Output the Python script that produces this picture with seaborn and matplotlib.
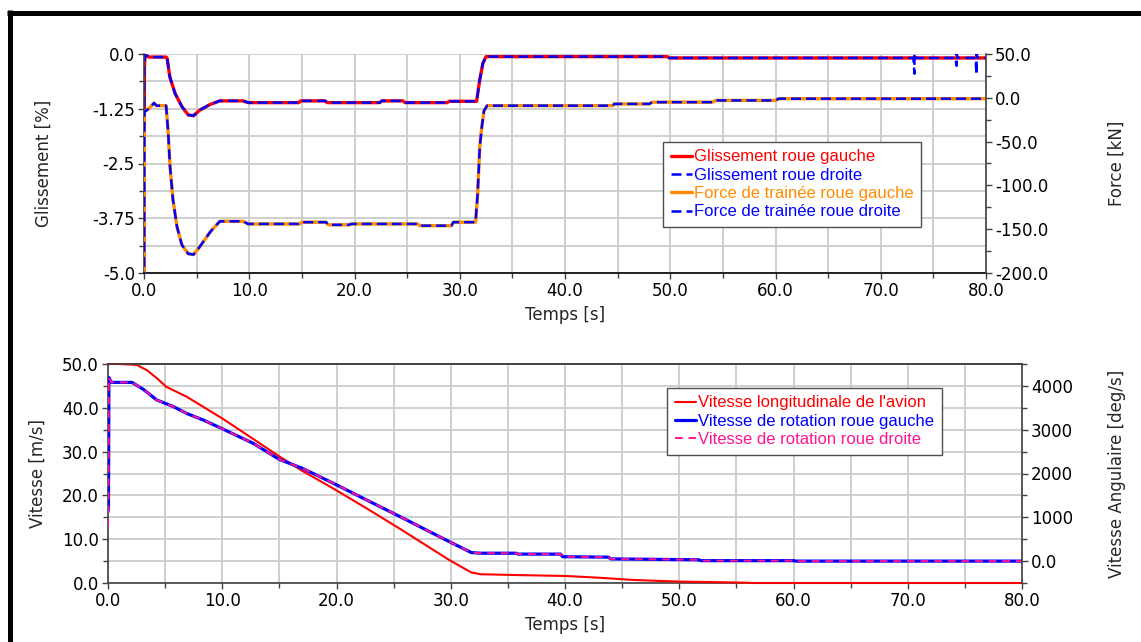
import numpy as np
import pandas as pd
import matplotlib.pyplot as plt
import seaborn as sns
from matplotlib.ticker import MultipleLocator
from matplotlib.lines import Line2D

# --- haut : glissement [%] et force de trainee [kN] ---
gliss_t = [0.0, 0.04, 0.1, 0.5, 2.1, 2.2, 2.45, 2.95, 3.6, 4.2, 4.7, 5.3, 6.3, 7.2, 9.4, 9.9,
           14.7, 14.9, 17.2, 17.4, 22.4, 22.6, 24.6, 24.8, 28.8, 29.0, 31.6, 31.9, 32.2, 32.5,
           49.7, 49.9, 80.0]
gliss_gauche = [-5.3, -0.3, -0.02, -0.07, -0.07, -0.1, -0.52, -0.9, -1.2, -1.39, -1.41, -1.28,
                -1.15, -1.07, -1.07, -1.11, -1.11, -1.07, -1.07, -1.11, -1.11, -1.07, -1.07,
                -1.11, -1.11, -1.08, -1.08, -0.59, -0.21, -0.06, -0.06, -0.09, -0.09]
# roue droite = meme courbe + petits pics en fin d'essai
gliss_droite_t = gliss_t[:-1] + [73.1, 73.2, 73.2, 73.3, 77.1, 77.2, 77.2, 77.3,
                                 79.0, 79.1, 79.1, 79.2, 80.0]
gliss_droite = gliss_gauche[:-1] + [-0.09, -0.45, 0.02, -0.09, -0.09, -0.27, 0.02, -0.09,
                                    -0.09, -0.47, 0.02, -0.09, -0.09]

force_t = [0.0, 0.04, 0.5, 0.95, 1.2, 2.1, 2.3, 2.47, 2.75, 3.13, 3.6, 4.2, 4.7, 5.3, 6.3,
           7.2, 9.4, 9.9, 14.8, 15.0, 17.3, 17.5, 19.5, 19.7, 26.0, 26.2, 29.2, 29.4, 31.5,
           31.7, 31.9, 32.1, 32.3, 32.6, 44.5, 44.7, 48.0, 48.3, 54.0, 54.3, 60.0, 60.3, 80.0]
force_gauche = [-210, -16, -12, -6, -9, -9, -40, -78, -116, -147, -168, -178, -179, -170,
                -153, -141, -141, -144, -144, -142, -142, -145, -145, -144, -144, -146, -146,
                -142, -142, -110, -56, -33, -15, -9, -9, -7, -7, -5, -5, -3, -3, -1, -1]
force_droite = list(force_gauche)

# --- bas : vitesses ---
vit_t = [0.0, 1.0, 2.5, 3.4, 4.3, 5.1, 6.9, 8.1, 10.1, 12.7, 15.0, 17.0, 19.7, 22.6, 25.6,
         29.9, 31.8, 32.6, 36.0, 40.1, 43.0, 46.0, 48.0, 50.3, 53.0, 56.0, 56.2, 80.0]
vit_long = [50.0, 50.0, 49.8, 48.6, 46.7, 44.8, 42.5, 40.6, 37.4, 32.9, 28.9, 25.6, 21.6,
            17.1, 12.3, 5.2, 2.4, 2.0, 1.8, 1.6, 1.2, 0.7, 0.5, 0.3, 0.2, 0.07, 0.0, 0.0]

rot_t = [0.0, 0.04, 0.08, 0.3, 2.1, 3.1, 4.26, 5.7, 6.9, 8.35, 10.1, 12.7, 15.0, 17.0, 19.7,
         22.6, 25.6, 29.9, 31.8, 32.6, 35.7, 35.9, 39.6, 39.8, 43.8, 44.0, 51.7, 51.9, 60.0,
         60.2, 80.0]
rot_gauche = [1130, 1250, 4190, 4080, 4080, 3920, 3680, 3530, 3370, 3220, 3010, 2690, 2320,
              2120, 1780, 1400, 1010, 440, 195, 180, 180, 160, 160, 100, 90, 50, 30, 10, 10,
              0, 0]
rot_droite = [780] + rot_gauche[1:]

# ticks
x_ticks = [0, 10, 20, 30, 40, 50, 60, 70, 80]
x_labels = ['0.0', '10.0', '20.0', '30.0', '40.0', '50.0', '60.0', '70.0', '80.0']
gl_ticks = [-5.0, -3.75, -2.5, -1.25, 0.0]
gl_labels = ['-5.0', '-3.75', '-2.5', '-1.25', '0.0']
f_ticks = [-200, -150, -100, -50, 0, 50]
f_labels = ['-200.0', '-150.0', '-100.0', '-50.0', '0.0', '50.0']
v_ticks = [0, 10, 20, 30, 40, 50]
v_labels = ['0.0', '10.0', '20.0', '30.0', '40.0', '50.0']
w_ticks = [0, 1000, 2000, 3000, 4000]
w_labels = ['0.0', '1000', '2000', '3000', '4000']

ROUGE = '#ff0000'
BLEU = '#0000ff'
ORANGE = '#ff8c00'
ROSE = '#ff1493'
SPINE = '#404040'

sns.set_theme(style="white")
plt.rcParams['font.family'] = ['DejaVu Sans']

W, H = 1141, 642
fig = plt.figure(figsize=(W / 100, H / 100), dpi=100)

def box(l, t, r, b):
    return [l / W, 1 - b / H, (r - l) / W, (b - t) / H]

ax1 = fig.add_axes(box(144, 54, 986, 273))
ax1b = ax1.twinx()
ax2 = fig.add_axes(box(108, 364, 1022, 583))
ax2b = ax2.twinx()

def trace(ax, x, y, color, lw, ls='-', label=None):
    sns.lineplot(x=x, y=y, ax=ax, color=color, linewidth=lw, linestyle=ls,
                 estimator=None, sort=False, legend=False, label=label)
    return ax.get_lines()[-1]

dash = (0, (4, 2))

l1 = trace(ax1, gliss_t, gliss_gauche, ROUGE, 2.4, label='Glissement roue gauche')
l2 = trace(ax1, gliss_droite_t, gliss_droite, BLEU, 1.8, dash, label='Glissement roue droite')
l3 = trace(ax1b, force_t, force_gauche, ORANGE, 2.4, label='Force de trainée roue gauche')
l4 = trace(ax1b, force_t, force_droite, BLEU, 1.8, dash, label='Force de trainée roue droite')

m1 = trace(ax2, vit_t, vit_long, ROUGE, 1.5, label="Vitesse longitudinale de l'avion")
m1.set_clip_on(False)
m1.set_zorder(3)
m2 = trace(ax2b, rot_t, rot_gauche, BLEU, 2.3, label='Vitesse de rotation roue gauche')
m3 = trace(ax2b, rot_t, rot_droite, ROSE, 1.4, (0, (4, 3)), label='Vitesse de rotation roue droite')

def style_axes(a, ab, ylim, yt, yl, ymin, ylim2, yt2, yl2, ymin2, top_spine):
    a.set_xlim(0, 80)
    a.set_ylim(*ylim)
    ab.set_ylim(*ylim2)
    a.set_xticks(x_ticks)
    a.set_xticklabels(x_labels)
    a.xaxis.set_minor_locator(MultipleLocator(5))
    a.set_yticks(yt)
    a.set_yticklabels(yl)
    a.yaxis.set_minor_locator(MultipleLocator(ymin))
    ab.set_yticks(yt2)
    ab.set_yticklabels(yl2)
    ab.yaxis.set_minor_locator(MultipleLocator(ymin2))
    a.grid(which='both', color='#cccccc', linewidth=1.3)
    ab.grid(False)
    for ax_ in (a, ab):
        ax_.tick_params(which='both', direction='out', color=SPINE, width=1.0,
                        labelsize=12, pad=2, labelcolor='black')
        ax_.tick_params(which='major', length=4.5)
        ax_.tick_params(which='minor', length=3.5)
    a.tick_params(axis='x', which='both', bottom=True)
    a.tick_params(axis='y', which='both', left=True)
    ab.tick_params(axis='y', which='both', right=True)
    for s in ('left', 'right', 'top', 'bottom'):
        a.spines[s].set_color(SPINE)
        ab.spines[s].set_color(SPINE)
        a.spines[s].set_linewidth(1.2)
        ab.spines[s].set_linewidth(1.2)
    ab.spines['left'].set_visible(False)
    a.spines['right'].set_visible(False)
    ab.spines['bottom'].set_visible(False)
    a.spines['top'].set_visible(top_spine)
    ab.spines['top'].set_visible(top_spine)
    a.set_xlabel('Temps [s]', fontsize=12, labelpad=4)

style_axes(ax1, ax1b, (-5, 0), gl_ticks, gl_labels, 0.625,
           (-200, 50), f_ticks, f_labels, 25, False)
ax1.spines['bottom'].set_color('black')
style_axes(ax2, ax2b, (0, 50), v_ticks, v_labels, 5,
           (-500, 4500), w_ticks, w_labels, 500, True)

ax1.set_ylabel('Glissement [%]', fontsize=12)
ax1.yaxis.set_label_coords((53 - 144) / 842, 0.5)
ax1b.set_ylabel('Force [kN]', fontsize=12)
ax1b.yaxis.set_label_coords((1108 - 144) / 842, 0.5)
ax2.set_ylabel('Vitesse [m/s]', fontsize=12)
ax2.yaxis.set_label_coords((47 - 108) / 914, 0.5)
ax2b.set_ylabel('Vitesse Angulaire [deg/s]', fontsize=12)
ax2b.yaxis.set_label_coords((1108 - 108) / 914, 0.5)

def legende(ax, handles, colors, x, y):
    leg = ax.legend(handles=handles, labels=[h.get_label() for h in handles],
                    loc='upper left', bbox_to_anchor=(x / W, 1 - y / H),
                    bbox_transform=fig.transFigure, borderaxespad=0,
                    frameon=True, fancybox=False, edgecolor='#505050', framealpha=1,
                    prop={'family': 'Liberation Sans', 'size': 12},
                    handlelength=1.3, handletextpad=0.12, labelspacing=0.2,
                    borderpad=0.45, labelcolor=colors)
    leg.get_frame().set_linewidth(1.0)
    return leg

legende(ax1b, [l1, l2, l3, l4], [ROUGE, BLEU, ORANGE, BLEU], 663, 142)
legende(ax2b, [m1, m2, m3], [ROUGE, BLEU, ROSE], 667, 388)

# cadre noir (haut et gauche)
fig.add_artist(Line2D([7 / W, 1.0], [1 - 12.5 / H, 1 - 12.5 / H], color='black',
                      linewidth=3.6, solid_capstyle='butt', transform=fig.transFigure))
fig.add_artist(Line2D([9.5 / W, 9.5 / W], [1 - 10 / H, 0.0], color='black',
                      linewidth=3.6, solid_capstyle='butt', transform=fig.transFigure))

fig.savefig('out.png', dpi=100)
